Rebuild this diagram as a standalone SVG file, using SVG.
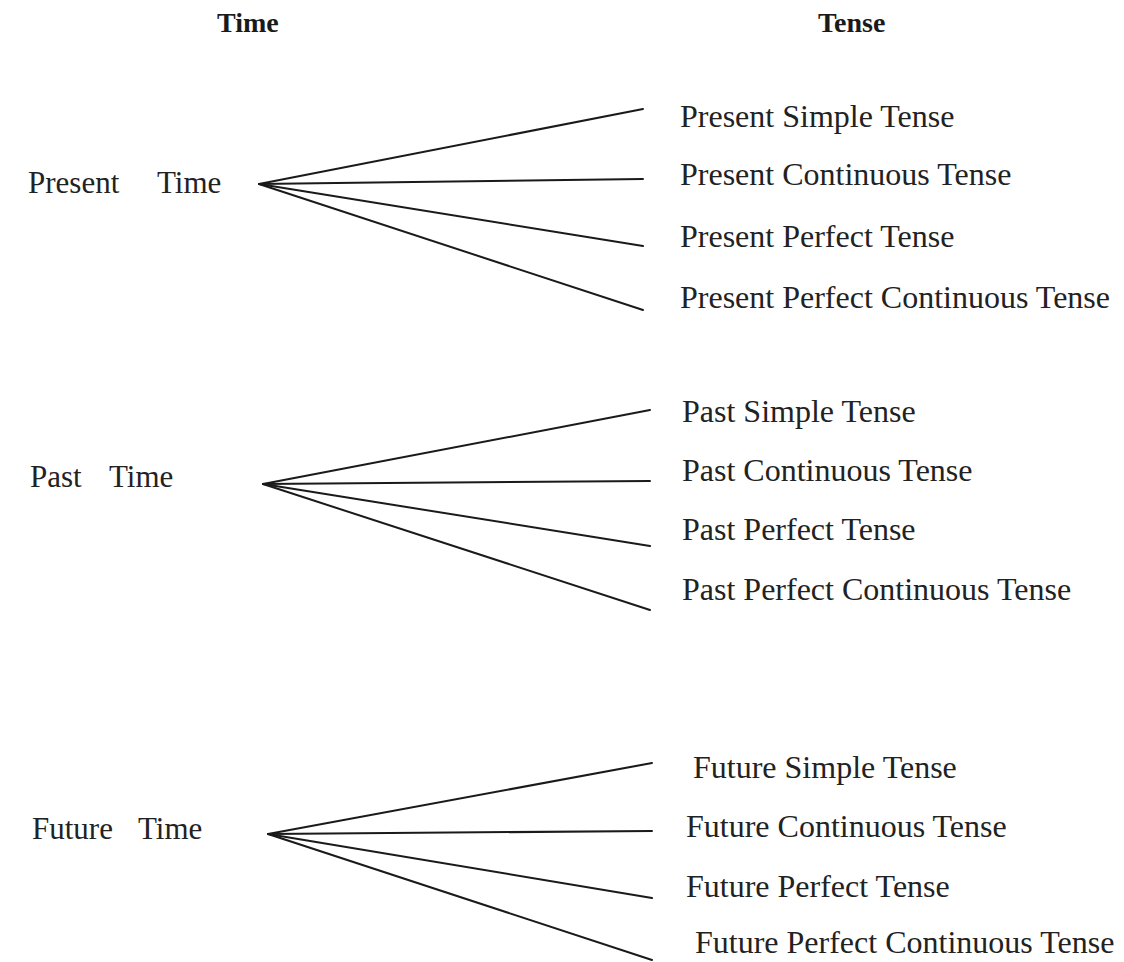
<svg xmlns="http://www.w3.org/2000/svg" width="1124" height="962" viewBox="0 0 1124 962">
<style>
.hdr{font-family:"Liberation Serif","Times New Roman",serif;font-weight:bold;font-size:28px;fill:#1a1a1a}
.time{font-family:"Liberation Serif","Times New Roman",serif;font-size:31px;fill:#222}
.tense{font-family:"Liberation Serif","Times New Roman",serif;font-size:32px;fill:#222}
.conn line{stroke:#1a1a1a;stroke-width:2;stroke-linecap:round}
</style>
<rect width="1124" height="962" fill="#ffffff"/>
<g id="headers">
<text class="hdr" x="217" y="32">Time</text>
<text class="hdr" x="818" y="32">Tense</text>
</g>
<g id="present-time"><text class="time" x="28" y="193">Present</text><text class="time" x="157" y="193">Time</text></g>
<g id="past-time"><text class="time" x="30" y="487">Past</text><text class="time" x="109" y="487">Time</text></g>
<g id="future-time"><text class="time" x="32" y="839">Future</text><text class="time" x="138" y="839">Time</text></g>
<g id="present-simple"><text class="tense" x="680" y="127">Present Simple Tense</text></g>
<g id="present-continuous"><text class="tense" x="680" y="185">Present Continuous Tense</text></g>
<g id="present-perfect"><text class="tense" x="680" y="247">Present Perfect Tense</text></g>
<g id="present-perfect-continuous"><text class="tense" x="680" y="308">Present Perfect Continuous Tense</text></g>
<g id="past-simple"><text class="tense" x="682" y="422">Past Simple Tense</text></g>
<g id="past-continuous"><text class="tense" x="682" y="481">Past Continuous Tense</text></g>
<g id="past-perfect"><text class="tense" x="682" y="540">Past Perfect Tense</text></g>
<g id="past-perfect-continuous"><text class="tense" x="682" y="600">Past Perfect Continuous Tense</text></g>
<g id="future-simple"><text class="tense" x="693" y="778">Future Simple Tense</text></g>
<g id="future-continuous"><text class="tense" x="686" y="837">Future Continuous Tense</text></g>
<g id="future-perfect"><text class="tense" x="686" y="897">Future Perfect Tense</text></g>
<g id="future-perfect-continuous"><text class="tense" x="695" y="953">Future Perfect Continuous Tense</text></g>
<g id="connectors" class="conn">
<line x1="259" y1="184" x2="643" y2="109"/>
<line x1="259" y1="184" x2="643" y2="179"/>
<line x1="259" y1="184" x2="643" y2="246"/>
<line x1="259" y1="184" x2="643" y2="310"/>
<line x1="263" y1="484" x2="650" y2="410"/>
<line x1="263" y1="484" x2="650" y2="481"/>
<line x1="263" y1="484" x2="650" y2="546"/>
<line x1="263" y1="484" x2="650" y2="610"/>
<line x1="268" y1="834" x2="652" y2="763"/>
<line x1="268" y1="834" x2="652" y2="831"/>
<line x1="268" y1="834" x2="652" y2="898"/>
<line x1="268" y1="834" x2="652" y2="960"/>
</g>
</svg>
